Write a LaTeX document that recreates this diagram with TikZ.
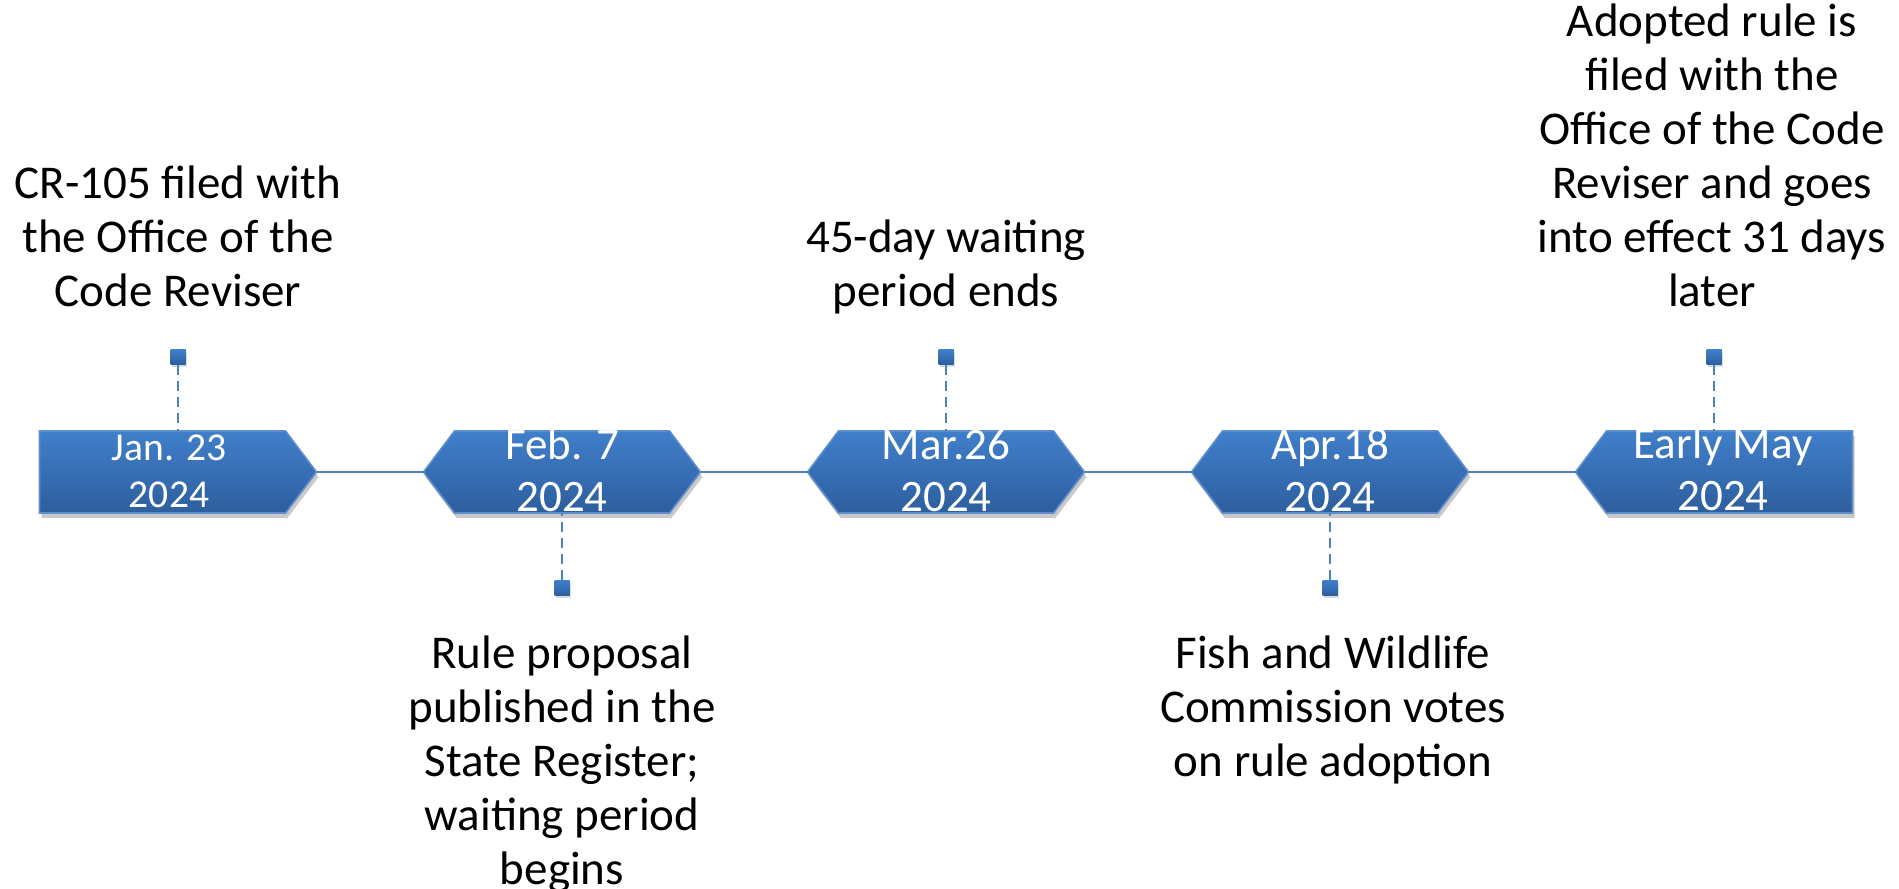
\documentclass[tikz,border=0pt]{standalone}
\usepackage{fontspec}
\setmainfont{Carlito}
\usepackage{tikz}
\usetikzlibrary{shadows}

\definecolor{boxtop}{RGB}{64,127,203}
\definecolor{boxbot}{RGB}{46,94,157}
\definecolor{boxedge}{RGB}{92,141,207}
\definecolor{lineblue}{RGB}{79,129,189}

\tikzset{
	datebox/.style={top color=boxtop, bottom color=boxbot, draw=boxedge, line width=0.8pt,
		drop shadow={shadow xshift=1pt, shadow yshift=-2.5pt, opacity=0.3, fill=black!70}},
	datetext/.style={text=white, align=center, inner sep=0pt, font=\fontsize{22.5}{26}\selectfont},
	smalldate/.style={datetext, font=\fontsize{19.75}{23.5}\selectfont},
	notetext/.style={text=black, align=center, inner sep=0pt, font=\fontsize{23.5}{27}\selectfont},
	marker/.style={rectangle, inner sep=0pt, minimum size=7.5pt, top color=boxtop, bottom color=boxbot,
		drop shadow={shadow xshift=0.5pt, shadow yshift=-1pt, opacity=0.3}},
	tick/.style={draw=lineblue, line width=1.4pt, dash pattern=on 5pt off 3pt},
	axis/.style={draw=lineblue, line width=1pt}
}

\begin{document}
\begin{tikzpicture}[x=0.5pt, y=-0.5pt]
		\def \ty {472}
		\def \hw {138.5}
		\def \hh {41}
		\def \tp {31}

		\useasboundingbox (0,0) rectangle (1899,888);

		% date shapes, l/r = pointed on the left/right
		\foreach \c/\l/\r [count=\i] in {178/0/1, 562/1/1, 946/1/1, 1330/1/1, 1714/1/0} {
			\path[datebox] (\c-\hw+\l*\tp, \ty-\hh) -- (\c+\hw-\r*\tp, \ty-\hh) -- (\c+\hw, \ty)
				-- (\c+\hw-\r*\tp, \ty+\hh) -- (\c-\hw+\l*\tp, \ty+\hh) -- (\c-\hw, \ty) -- cycle;
			\coordinate (top\i) at (\c, \ty-\hh);
			\coordinate (bot\i) at (\c, \ty+\hh);
			\coordinate (lt\i) at (\c-\hw, \ty);
			\coordinate (rt\i) at (\c+\hw, \ty);
		}

		\foreach \i/\j in {1/2, 2/3, 3/4, 4/5}
			\draw[axis] (rt\i) -- (lt\j);

		\node[smalldate] (date1) at (169, 471) {Jan. 23\\2024};
		\node[datetext] (date2) at (562, 470) {Feb. 7\\2024};
		\node[datetext] (date3) at (946, 470) {Mar.26\\2024};
		\node[datetext] (date4) at (1330, 470) {Apr.18\\2024};
		\node[datetext] (date5) at (1723, 469) {Early May\\2024};

		% markers above and below
		\node[marker] (mk1) at (178, 357) {};
		\node[marker] (mk2) at (562, 588) {};
		\node[marker] (mk3) at (946, 357) {};
		\node[marker] (mk4) at (1330, 588) {};
		\node[marker] (mk5) at (1714, 357) {};

		\draw[tick] (mk1) -- (top1);
		\draw[tick] (mk2) -- (bot2);
		\draw[tick] (mk3) -- (top3);
		\draw[tick] (mk4) -- (bot4);
		\draw[tick] (mk5) -- (top5);

		\node[notetext, anchor=base] (note1) at (178, 306) {CR-105 filed with\\the Office of the\\Code Reviser};
		\node[notetext, anchor=north] (note2) at (562, 635) {Rule proposal\\published in the\\State Register;\\waiting period\\begins};
		\node[notetext, anchor=base] (note3) at (946, 306) {45-day waiting\\period ends};
		\node[notetext, anchor=north] (note4) at (1333, 635) {Fish and Wildlife\\Commission votes\\on rule adoption};
		\node[notetext, anchor=base] (note5) at (1712, 306) {Adopted rule is\\filed with the\\Office of the Code\\Reviser and goes\\into effect 31 days\\later};
	\end{tikzpicture}
\end{document}
